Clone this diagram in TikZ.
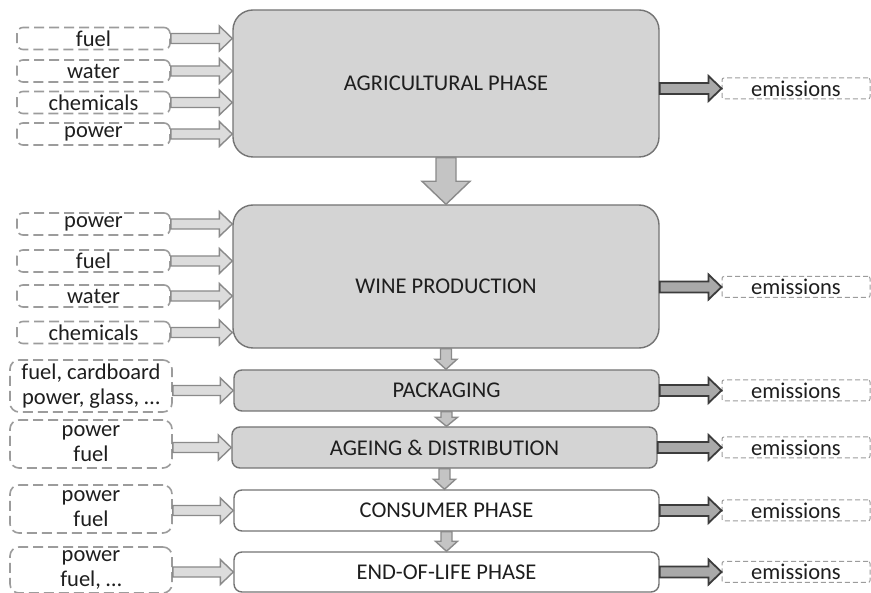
\documentclass[tikz,border=0pt]{standalone}
\usepackage{fontspec}
\setmainfont{Carlito}
\usetikzlibrary{calc}

\definecolor{boxfill}{HTML}{D4D4D4}
\definecolor{boxline}{HTML}{747474}
\definecolor{txt}{HTML}{1E1E1E}
\definecolor{dashline}{HTML}{9C9C9C}
\definecolor{inarrowfill}{HTML}{DCDCDC}
\definecolor{inarrowline}{HTML}{8A8A8A}
\definecolor{outarrowfill}{HTML}{A9A9A9}
\definecolor{outarrowline}{HTML}{3C3C3C}
\definecolor{downfill}{HTML}{C4C4C4}

% horizontal block arrow: style, start, tip, half shaft, half head, head length
\newcommand\hblock[6]{%
  \path[#1] let \p1=(#2), \p2=(#3) in
    (\x1,\y1+#4pt) -- (\x2-#6pt,\y1+#4pt) -- (\x2-#6pt,\y1+#5pt) -- (\x2,\y1)
    -- (\x2-#6pt,\y1-#5pt) -- (\x2-#6pt,\y1-#4pt) -- (\x1,\y1-#4pt) -- cycle;}
% downward block arrow: style, start, tip, half shaft, half head, head length
\newcommand\vblock[6]{%
  \path[#1] let \p1=(#2), \p2=(#3) in
    (\x1-#4pt,\y1) -- (\x1-#4pt,\y2+#6pt) -- (\x1-#5pt,\y2+#6pt) -- (\x1,\y2)
    -- (\x1+#5pt,\y2+#6pt) -- (\x1+#4pt,\y2+#6pt) -- (\x1+#4pt,\y1) -- cycle;}

\tikzset{
  txtfont/.style={font=\fontsize{22.5}{25}\selectfont},
  phase/.style={draw=boxline, line width=1.4pt, fill=boxfill, text=txt,
    inner sep=0pt, minimum width=425pt, minimum height=41pt, rounded corners=8pt,
    txtfont},
  bigphase/.style={phase, rounded corners=20pt, minimum width=426pt},
  whitephase/.style={phase, fill=white},
  inbox/.style={draw=dashline, line width=1.6pt, dash pattern=on 10pt off 5pt,
    rounded corners=6pt, inner sep=0pt, minimum width=153pt, minimum height=22pt,
    text=txt, align=center, txtfont},
  lowinbox/.style={inbox, minimum width=162pt, rounded corners=9pt},
  embox/.style={draw=dashline, line width=1pt, dash pattern=on 5pt off 3pt,
    rounded corners=2pt, inner sep=0pt, minimum width=148pt, minimum height=21pt,
    text=txt, txtfont},
  inarrow/.style={draw=inarrowline, fill=inarrowfill, line width=1.4pt, line join=miter},
  outarrow/.style={draw=outarrowline, fill=outarrowfill, line width=1.8pt, line join=miter},
  downarrow/.style={draw=inarrowline, fill=downfill, line width=1.4pt, line join=miter},
}

\begin{document}
\begin{tikzpicture}[x=1pt, y=-1pt]
\fill[white] (0,0) rectangle (871,593);
\useasboundingbox (0,0) rectangle (871,593);

% life-cycle phases
\node[bigphase, minimum height=147pt] (agri) at (446,83.5) {AGRICULTURAL PHASE};
\node[bigphase, minimum height=143pt,
  label={[text=txt, txtfont, yshift=-10pt]center:WINE PRODUCTION}]
  (wine) at (446,276.5) {};
\node[phase] (pack) at (446.5,390.5) {PACKAGING};
\node[phase] (age) at (444.5,447.5) {AGEING \& DISTRIBUTION};
\node[whitephase] (cons) at (446.5,510.5) {CONSUMER PHASE};
\node[whitephase, minimum height=40pt] (eol) at (446.5,572) {END-OF-LIFE PHASE};

% flow between phases
\vblock{downarrow}{agri.south}{wine.north}{10}{24}{23}
\vblock{downarrow}{wine.south}{pack.north}{5.5}{11}{10}
\vblock{downarrow}{pack.south}{age.north}{5.5}{11}{9}
\vblock{downarrow}{age.south}{cons.north}{5.5}{11}{10}
\vblock{downarrow}{cons.south}{eol.north}{5.5}{11}{10}

% inputs to the agricultural phase
\node[inbox] (a1) at (93.5,38.5) {fuel};
\node[inbox] (a2) at (93.5,71) {water};
\node[inbox] (a3) at (93.5,102.5) {chemicals};
\node[inbox] (a4) at (93.5,134) {power};
\foreach \src in {a1,a2,a3,a4}{%
  \hblock{inarrow}{\src.east}{agri.west |- \src.east}{5}{12.5}{13}}

% inputs to wine production
\node[inbox] (w1) at (93.5,224) {power};
\node[inbox] (w2) at (93.5,261) {fuel};
\node[inbox] (w3) at (93.5,296) {water};
\node[inbox] (w4) at (93.5,332.5) {chemicals};
\foreach \src in {w1,w2,w3,w4}{%
  \hblock{inarrow}{\src.east}{wine.west |- \src.east}{5}{12.5}{13}}

% inputs to the later phases
\node[lowinbox, minimum height=52pt] (p1) at (91,386) {fuel, cardboard\\power, glass, \dots};
\node[lowinbox, minimum height=48pt] (g1) at (91,444) {power\\fuel};
\node[lowinbox, minimum height=48pt] (c1) at (91,509) {power\\fuel};
\node[lowinbox, minimum height=46pt] (e1) at (91,570) {power\\fuel, \dots};
\hblock{inarrow}{p1.east |- pack.west}{pack.west}{5}{12.5}{13}
\hblock{inarrow}{g1.east |- age.west}{age.west}{5}{12.5}{13}
\hblock{inarrow}{c1.east |- cons.west}{cons.west}{5}{12.5}{13}
\hblock{inarrow}{e1.east |- eol.west}{eol.west}{5}{12.5}{13}

% emissions
\node[embox] (ea) at (796,88.5) {emissions};
\node[embox] (ew) at (796,287) {emissions};
\node[embox] (ep) at (796,390.5) {emissions};
\node[embox] (eg) at (796,447.5) {emissions};
\node[embox] (ec) at (796,510.5) {emissions};
\node[embox] (ee) at (796,572) {emissions};
\hblock{outarrow}{agri.east |- ea.west}{ea.west}{5.5}{12.5}{13}
\hblock{outarrow}{wine.east |- ew.west}{ew.west}{5.5}{12.5}{13}
\hblock{outarrow}{pack.east |- ep.west}{ep.west}{5.5}{12.5}{13}
\hblock{outarrow}{age.east |- eg.west}{eg.west}{5.5}{12.5}{13}
\hblock{outarrow}{cons.east |- ec.west}{ec.west}{5.5}{12.5}{13}
\hblock{outarrow}{eol.east |- ee.west}{ee.west}{5.5}{12.5}{13}
\end{tikzpicture}
\end{document}
